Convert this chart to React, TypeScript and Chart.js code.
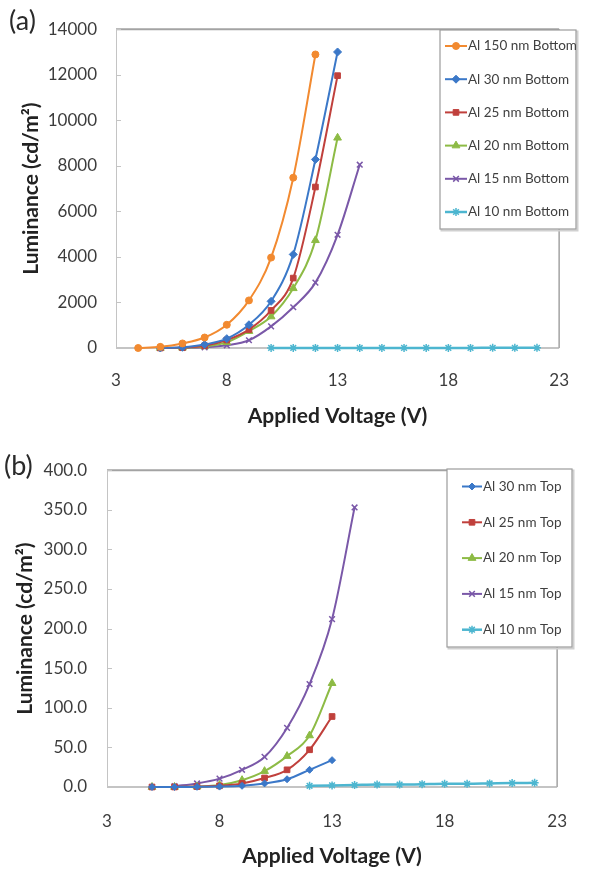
import React, { useEffect, useRef } from 'react';
import { Chart, registerables } from 'chart.js';
import { drawPoint } from 'chart.js/helpers';

Chart.register(...registerables);

// ---------- Panel (a): bottom emission ----------
const voltsA150 = [4, 5, 6, 7, 8, 9, 10, 11, 12];
const lumA150 = [0, 50, 200, 460, 1020, 2090, 3970, 7480, 12890];
const voltsA30 = [5, 6, 7, 8, 9, 10, 11, 12, 13];
const lumA30 = [0, 30, 150, 410, 1020, 2050, 4110, 8280, 13000];
const voltsA25 = [5, 6, 7, 8, 9, 10, 11, 12, 13];
const lumA25 = [0, 20, 100, 350, 810, 1650, 3070, 7070, 11960];
const voltsA20 = [5, 6, 7, 8, 9, 10, 11, 12, 13];
const lumA20 = [0, 10, 70, 250, 740, 1380, 2620, 4730, 9230];
const voltsA15 = [6, 7, 8, 9, 10, 11, 12, 13, 14];
const lumA15 = [0, 30, 120, 340, 950, 1790, 2870, 4970, 8050];
const voltsA10 = [10, 11, 12, 13, 14, 15, 16, 17, 18, 19, 20, 21, 22];
const lumA10 = [1, 1, 2, 2, 3, 3, 4, 4, 5, 5, 6, 6, 7];

// ---------- Panel (b): top emission ----------
const voltsB30 = [5, 6, 7, 8, 9, 10, 11, 12, 13];
const lumB30 = [0, 0, 0.2, 0.5, 1.5, 4.5, 9.8, 21.7, 33.9];
const voltsB25 = [5, 6, 7, 8, 9, 10, 11, 12, 13];
const lumB25 = [0, 0, 0.5, 1.5, 4.5, 11.4, 21.7, 47, 89];
const voltsB20 = [5, 6, 7, 8, 9, 10, 11, 12, 13];
const lumB20 = [0, 0, 0.5, 2.5, 8.6, 20, 39, 65, 131];
const voltsB15 = [6, 7, 8, 9, 10, 11, 12, 13, 14];
const lumB15 = [1, 4.5, 10.6, 21.7, 38, 74.6, 130, 212, 353];
const voltsB10 = [12, 13, 14, 15, 16, 17, 18, 19, 20, 21, 22];
const lumB10 = [1.5, 2, 2.5, 3, 3, 3.5, 4, 4, 4.5, 5, 5.3];

// ---------- axis ticks ----------
const xMin = 3;
const xMax = 23;
const xStep = 5;
const yMaxA = 14000;
const yStepA = 2000;
const yMaxB = 400;
const yStepB = 50;

const xTitle = 'Applied Voltage (V)';
const yTitle = 'Luminance (cd/m\u00B2)';

const C_ORANGE = '#F28A30';
const C_BLUE = '#3B78C8';
const C_RED = '#C0403C';
const C_GREEN = '#8DBB45';
const C_PURPLE = '#7A58A8';
const C_CYAN = '#4DB6D0';

const TICK_FONT = 'Lato, "Liberation Sans", sans-serif';
const TITLE_FONT = 'Lato, "Open Sans", sans-serif';

type Series = {
  label: string;
  volts: number[];
  lum: number[];
  color: string;
  marker: string;
  radius: number;
  width: number;
  filled: boolean;
};

type LegendSpec = {
  x: number; y: number; w: number; h: number;
  firstRow: number; rowGap: number;
  lineX0: number; lineX1: number; textX: number; fontSize: number;
};

type PanelSpec = {
  series: Series[];
  height: number;
  yMax: number;
  yStep: number;
  yFmt: (v: number) => string;
  padTop: number;
  padRight: number;
  yAxisW: number;
  xAxisH: number;
  yTickPad: number;
  xTickPad: number;
  xTitlePad: number;
  yTitlePad: number;
  legend: LegendSpec;
};

const seriesA: Series[] = [
  { label: 'Al 150 nm Bottom', volts: voltsA150, lum: lumA150, color: C_ORANGE, marker: 'circle', radius: 3.5, width: 2, filled: true },
  { label: 'Al 30 nm Bottom', volts: voltsA30, lum: lumA30, color: C_BLUE, marker: 'rectRot', radius: 4, width: 2, filled: true },
  { label: 'Al 25 nm Bottom', volts: voltsA25, lum: lumA25, color: C_RED, marker: 'rect', radius: 4, width: 2, filled: true },
  { label: 'Al 20 nm Bottom', volts: voltsA20, lum: lumA20, color: C_GREEN, marker: 'triangle', radius: 4.5, width: 2, filled: true },
  { label: 'Al 15 nm Bottom', volts: voltsA15, lum: lumA15, color: C_PURPLE, marker: 'crossRot', radius: 4, width: 2, filled: false },
  { label: 'Al 10 nm Bottom', volts: voltsA10, lum: lumA10, color: C_CYAN, marker: 'star', radius: 4, width: 2.5, filled: false },
];

const seriesB: Series[] = [
  { label: 'Al 30 nm Top', volts: voltsB30, lum: lumB30, color: C_BLUE, marker: 'rectRot', radius: 3.5, width: 2, filled: true },
  { label: 'Al 25 nm Top', volts: voltsB25, lum: lumB25, color: C_RED, marker: 'rect', radius: 4, width: 2, filled: true },
  { label: 'Al 20 nm Top', volts: voltsB20, lum: lumB20, color: C_GREEN, marker: 'triangle', radius: 4.5, width: 2, filled: true },
  { label: 'Al 15 nm Top', volts: voltsB15, lum: lumB15, color: C_PURPLE, marker: 'crossRot', radius: 4, width: 2, filled: false },
  { label: 'Al 10 nm Top', volts: voltsB10, lum: lumB10, color: C_CYAN, marker: 'star', radius: 4, width: 2.5, filled: false },
];

const panelA: PanelSpec = {
  series: seriesA,
  height: 440,
  yMax: yMaxA,
  yStep: yStepA,
  yFmt: (v) => String(v),
  padTop: 20,
  padRight: 11,
  yAxisW: 116,
  xAxisH: 92,
  yTickPad: 19,
  xTickPad: 22,
  xTitlePad: 11,
  yTitlePad: 19,
  legend: { x: 440, y: 30, w: 136, h: 199, firstRow: 16, rowGap: 33.2, lineX0: 445, lineX1: 467, textX: 468, fontSize: 13.5 },
};

const panelB: PanelSpec = {
  series: seriesB,
  height: 432,
  yMax: yMaxB,
  yStep: yStepB,
  yFmt: (v) => v.toFixed(1),
  padTop: 20,
  padRight: 14,
  yAxisW: 107,
  xAxisH: 85,
  yTickPad: 20,
  xTickPad: 24,
  xTitlePad: 3,
  yTitlePad: 13,
  legend: { x: 447, y: 29, w: 125, h: 178, firstRow: 17.5, rowGap: 35.8, lineX0: 462, lineX1: 482, textX: 483, fontSize: 13.5 },
};

function makeFramePlugin() {
  return {
    id: 'frame',
    beforeDatasetsDraw(chart: any) {
      const { ctx, chartArea } = chart;
      const { left, top, right, bottom } = chartArea;
      ctx.save();
      ctx.lineCap = 'butt';
      ctx.strokeStyle = '#a3a3a3';
      ctx.lineWidth = 2;
      ctx.beginPath();
      ctx.moveTo(left, top);
      ctx.lineTo(right, top);
      ctx.stroke();
      ctx.lineWidth = 1.5;
      ctx.beginPath();
      ctx.moveTo(right, top);
      ctx.lineTo(right, bottom);
      ctx.stroke();
      ctx.strokeStyle = '#b0b0b0';
      ctx.lineWidth = 1.5;
      ctx.beginPath();
      ctx.moveTo(left, bottom);
      ctx.lineTo(right, bottom);
      ctx.stroke();
      ctx.strokeStyle = '#c4c4c4';
      ctx.lineWidth = 1;
      ctx.beginPath();
      ctx.moveTo(left + 0.5, top);
      ctx.lineTo(left + 0.5, bottom);
      ctx.stroke();
      const ys = chart.scales.y;
      ctx.strokeStyle = '#c4c4c4';
      ys.ticks.forEach((t: any) => {
        const py = Math.round(ys.getPixelForValue(t.value)) + 0.5;
        ctx.beginPath();
        ctx.moveTo(left, py);
        ctx.lineTo(left + 5, py);
        ctx.stroke();
      });
      ctx.restore();
    },
  };
}

function makeLegendPlugin(L: LegendSpec) {
  return {
    id: 'boxLegend',
    afterDraw(chart: any) {
      const { ctx } = chart;
      ctx.save();
      ctx.strokeStyle = '#d0d0d0';
      ctx.lineWidth = 2;
      ctx.strokeRect(L.x + 1.5, L.y + 1.5, L.w, L.h);
      ctx.fillStyle = '#ffffff';
      ctx.fillRect(L.x, L.y, L.w, L.h);
      ctx.strokeStyle = '#9c9c9c';
      ctx.lineWidth = 1.2;
      ctx.strokeRect(L.x, L.y, L.w, L.h);
      chart.data.datasets.forEach((ds: any, i: number) => {
        const cy = L.y + L.firstRow + i * L.rowGap;
        ctx.strokeStyle = ds.borderColor;
        ctx.lineWidth = ds.borderWidth;
        ctx.beginPath();
        ctx.moveTo(L.lineX0, cy);
        ctx.lineTo(L.lineX1, cy);
        ctx.stroke();
        ctx.fillStyle = ds.pointBackgroundColor;
        ctx.strokeStyle = ds.pointBorderColor;
        ctx.lineWidth = ds.pointBorderWidth;
        drawPoint(ctx, {
          pointStyle: ds.pointStyle,
          radius: ds.pointRadius,
          rotation: 0,
          borderWidth: ds.pointBorderWidth,
        } as any, (L.lineX0 + L.lineX1) / 2, cy);
        ctx.fillStyle = '#404040';
        ctx.font = `${L.fontSize}px ${TICK_FONT}`;
        ctx.textBaseline = 'middle';
        ctx.textAlign = 'left';
        ctx.fillText(ds.label, L.textX, cy);
      });
      ctx.restore();
    },
  };
}

function buildConfig(s: PanelSpec): any {
  return {
    type: 'line',
    data: {
      datasets: s.series.map((ser) => ({
        label: ser.label,
        data: ser.volts.map((v, i) => ({ x: v, y: ser.lum[i] })),
        borderColor: ser.color,
        backgroundColor: ser.color,
        pointBackgroundColor: ser.filled ? ser.color : 'rgba(0,0,0,0)',
        pointBorderColor: ser.color,
        pointBorderWidth: ser.filled ? 1 : 1.5,
        pointStyle: ser.marker,
        pointRadius: ser.radius,
        borderWidth: ser.width,
        cubicInterpolationMode: 'monotone',
        fill: false,
        clip: false,
      })),
    },
    options: {
      responsive: false,
      animation: false,
      devicePixelRatio: 1,
      layout: { padding: { top: s.padTop, right: s.padRight, left: 0, bottom: 0 } },
      plugins: { legend: { display: false }, tooltip: { enabled: false } },
      scales: {
        x: {
          type: 'linear',
          min: xMin,
          max: xMax,
          ticks: {
            stepSize: xStep,
            padding: s.xTickPad,
            color: '#3c3c3c',
            font: { family: TICK_FONT, size: 17 },
            callback: (v: number) => String(v),
            maxRotation: 0,
          },
          grid: { display: false, drawTicks: false },
          border: { display: false },
          title: {
            display: true,
            text: xTitle,
            color: '#222222',
            font: { family: TITLE_FONT, size: 21, weight: 'bold' },
            padding: { top: 0, bottom: s.xTitlePad },
          },
          afterFit: (sc: any) => { sc.height = s.xAxisH; },
        },
        y: {
          type: 'linear',
          min: 0,
          max: s.yMax,
          ticks: {
            stepSize: s.yStep,
            padding: s.yTickPad,
            color: '#3c3c3c',
            font: { family: TICK_FONT, size: 17 },
            callback: (v: number) => s.yFmt(v),
          },
          grid: { display: false, drawTicks: false },
          border: { display: false },
          title: {
            display: true,
            text: yTitle,
            color: '#222222',
            font: { family: TITLE_FONT, size: 21, weight: 'bold' },
            padding: { top: s.yTitlePad, bottom: 0 },
          },
          afterFit: (sc: any) => { sc.width = s.yAxisW; },
        },
      },
    },
    plugins: [makeFramePlugin(), makeLegendPlugin(s.legend)],
  };
}

function Panel({ spec, top }: { spec: PanelSpec; top: number }) {
  const ref = useRef<HTMLCanvasElement>(null);
  useEffect(() => {
    const chart = new Chart(ref.current as HTMLCanvasElement, buildConfig(spec));
    return () => chart.destroy();
  }, [spec]);
  return (
    <canvas
      ref={ref}
      width={591}
      height={spec.height}
      style={{ position: 'absolute', left: 0, top, width: 591, height: spec.height }}
    />
  );
}

const labelStyle: React.CSSProperties = {
  position: 'absolute',
  fontFamily: 'Lato, "Open Sans", sans-serif',
  fontSize: 27,
  lineHeight: '30px',
  color: '#2a2a2a',
  margin: 0,
};

export default function App() {
  return (
    <div style={{ position: 'absolute', left: 0, top: 0, width: 591, height: 872, background: '#ffffff', overflow: 'hidden' }}>
      <Panel spec={panelA} top={0} />
      <Panel spec={panelB} top={440} />
      <div style={{ ...labelStyle, left: 9, top: 5 }}>(a)</div>
      <div style={{ ...labelStyle, left: 4, top: 450 }}>(b)</div>
    </div>
  );
}
